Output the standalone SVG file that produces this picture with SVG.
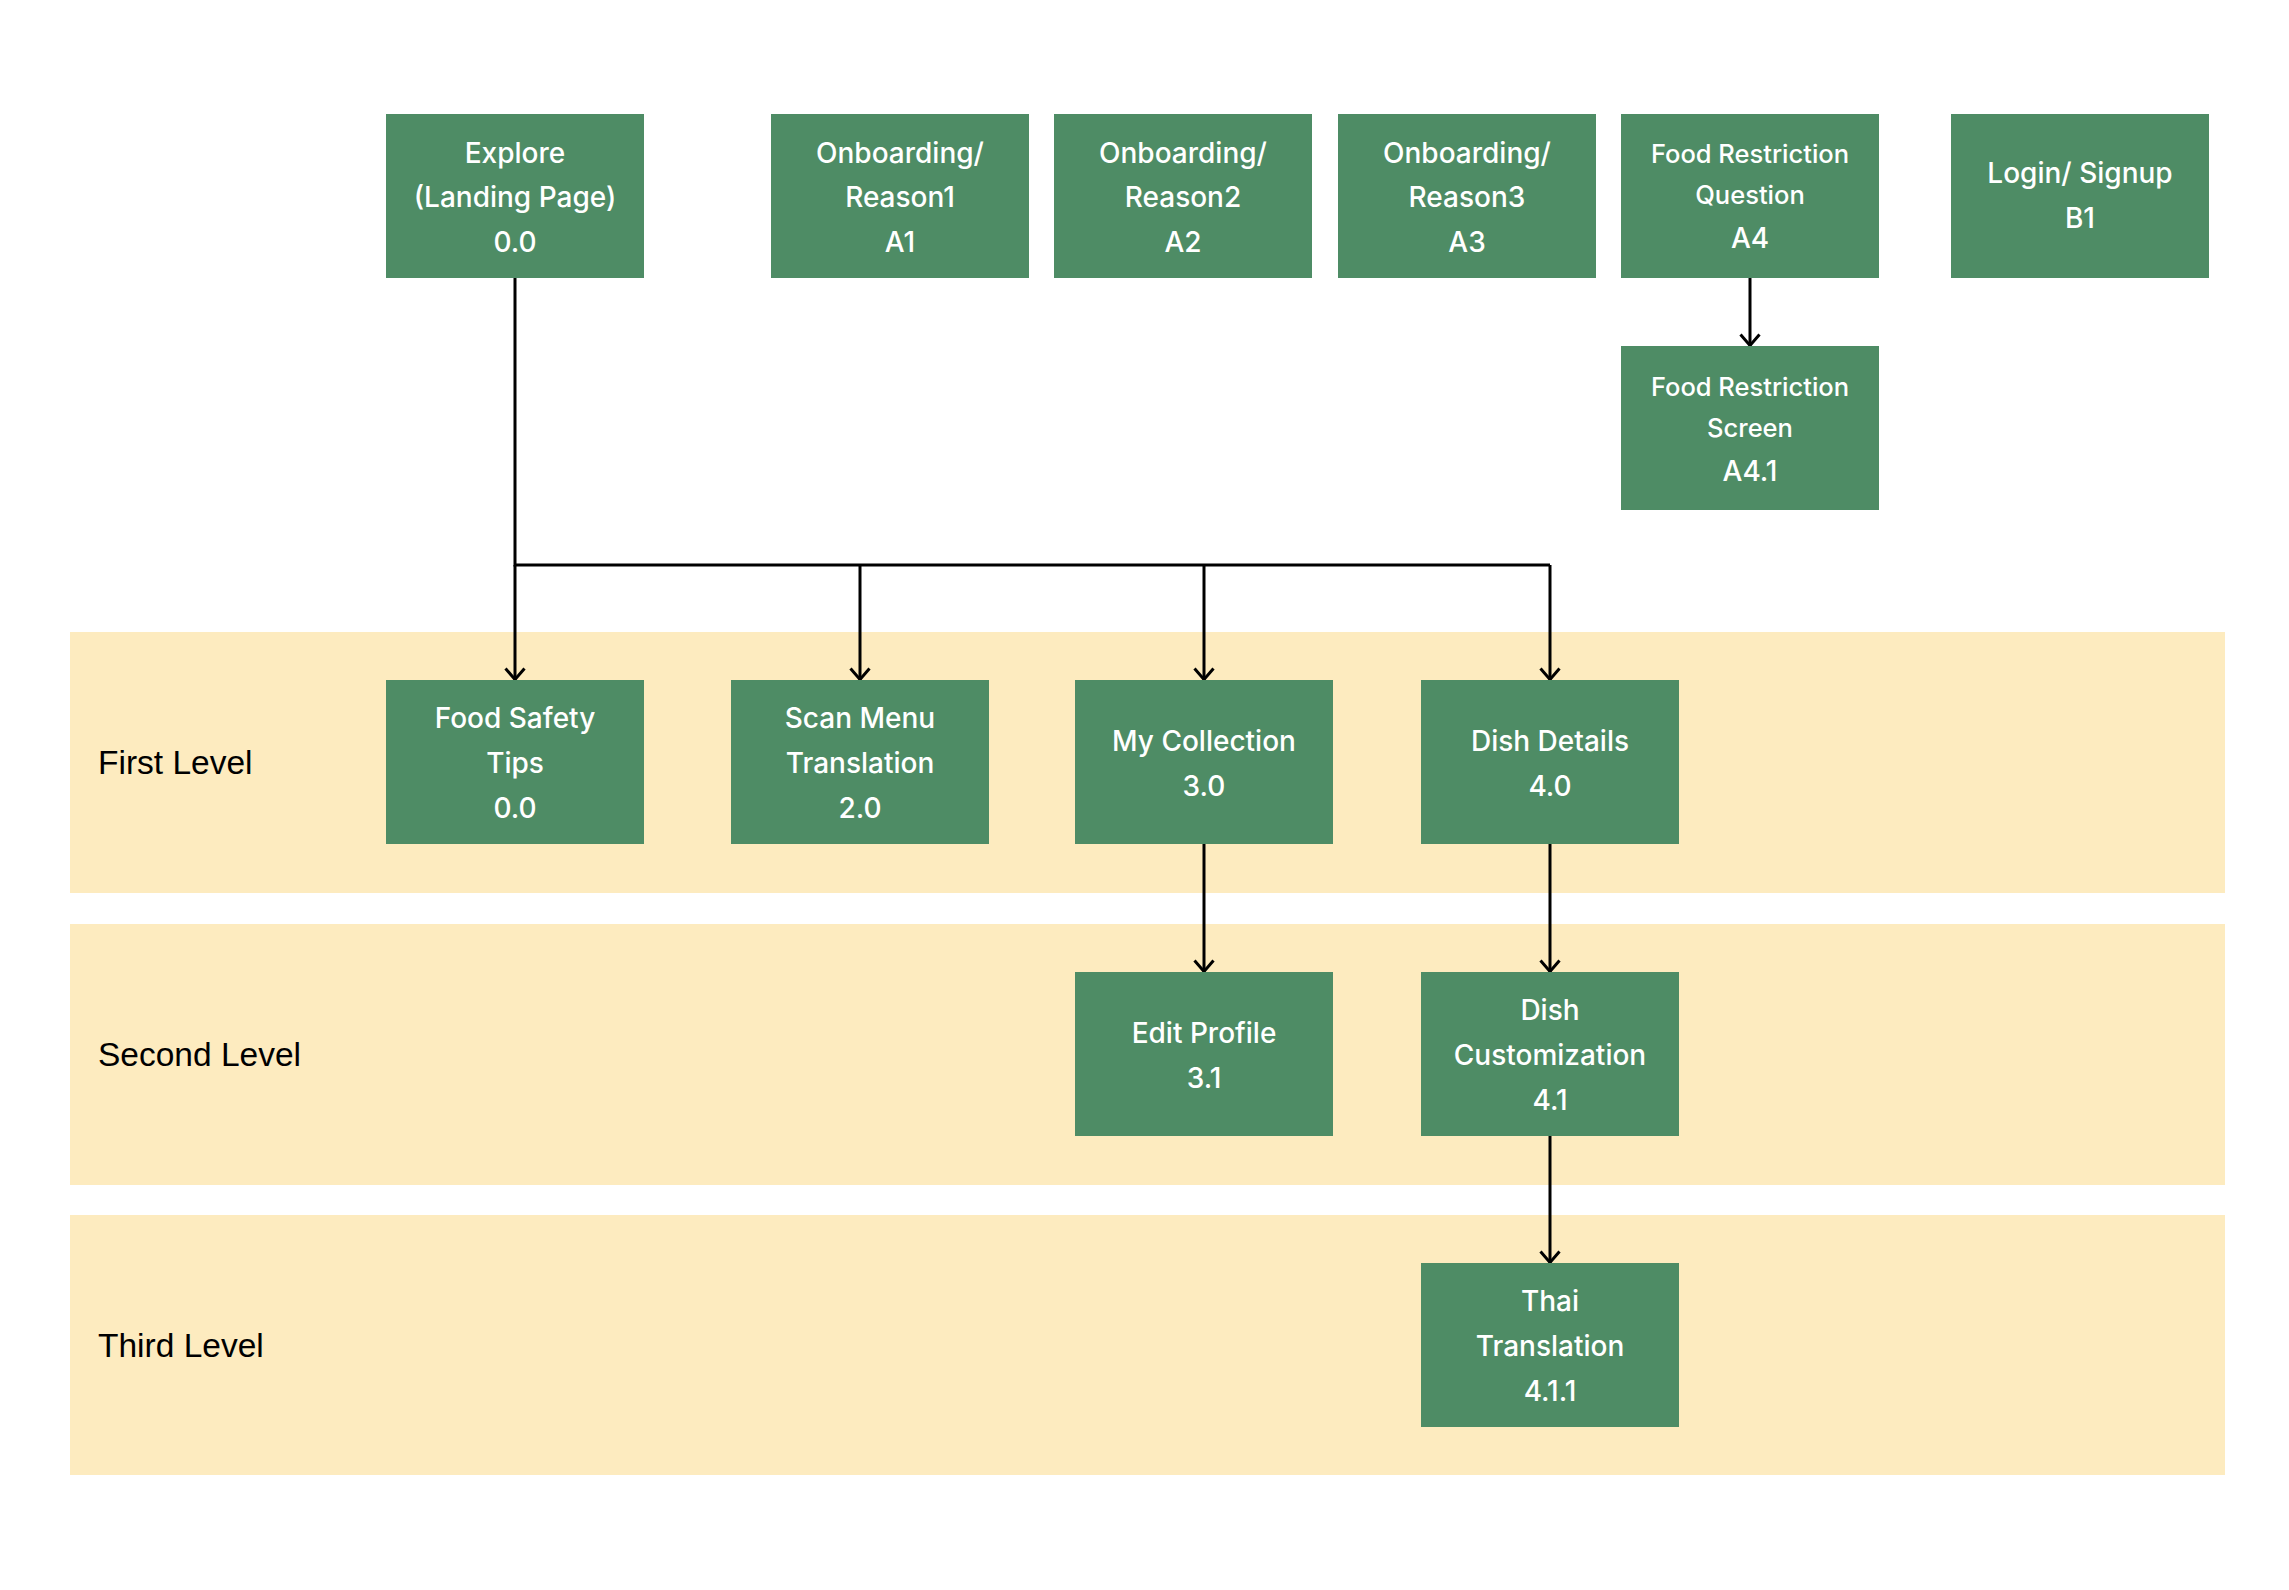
<svg xmlns="http://www.w3.org/2000/svg" width="2289" height="1590" viewBox="0 0 2289 1590">
<style>
.band{fill:#FDEBBF}
.box{fill:#4E8C65}
.t{font-family:Inter,"Liberation Sans",sans-serif;font-size:28px;font-weight:500;fill:#FFFFFF;text-anchor:middle}
.s{font-size:25.5px}
.lvl{font-family:"Liberation Sans",Arial,sans-serif;font-size:33.5px;fill:#000000}
.c{fill:none;stroke:#000000;stroke-width:3}
</style>
<defs>
<marker id="arr" markerUnits="userSpaceOnUse" viewBox="0 0 15 22" markerWidth="15" markerHeight="22" refX="13" refY="11" orient="auto">
<path d="M1.5,1.5 L12.5,11 L1.5,20.5" fill="none" stroke="#000000" stroke-width="3"/>
</marker>
</defs>
<rect width="2289" height="1590" fill="#FFFFFF"/>
<g id="bands">
<rect class="band" x="70" y="632" width="2155" height="261"/>
<rect class="band" x="70" y="924" width="2155" height="261"/>
<rect class="band" x="70" y="1215" width="2155" height="260"/>
<text class="lvl" x="98" y="774">First Level</text>
<text class="lvl" x="98" y="1066">Second Level</text>
<text class="lvl" x="98" y="1357">Third Level</text>
</g>
<g id="connectors">
<path class="c" d="M515,278 V565 H1550"/>
<path class="c" d="M515,565 V680" marker-end="url(#arr)"/>
<path class="c" d="M860,565 V680" marker-end="url(#arr)"/>
<path class="c" d="M1204,565 V680" marker-end="url(#arr)"/>
<path class="c" d="M1550,565 V680" marker-end="url(#arr)"/>
<path class="c" d="M1750,278 V346" marker-end="url(#arr)"/>
<path class="c" d="M1204,844 V972" marker-end="url(#arr)"/>
<path class="c" d="M1550,844 V972" marker-end="url(#arr)"/>
<path class="c" d="M1550,1136 V1263" marker-end="url(#arr)"/>
</g>
<g id="explore">
<rect class="box" x="386" y="114" width="258" height="164"/>
<text class="t" x="515" y="163">Explore</text>
<text class="t" x="515" y="207">(Landing Page)</text>
<text class="t" x="515" y="252">0.0</text>
</g>
<g id="a1">
<rect class="box" x="771" y="114" width="258" height="164"/>
<text class="t" x="900" y="163">Onboarding/</text>
<text class="t" x="900" y="207">Reason1</text>
<text class="t" x="900" y="252">A1</text>
</g>
<g id="a2">
<rect class="box" x="1054" y="114" width="258" height="164"/>
<text class="t" x="1183" y="163">Onboarding/</text>
<text class="t" x="1183" y="207">Reason2</text>
<text class="t" x="1183" y="252">A2</text>
</g>
<g id="a3">
<rect class="box" x="1338" y="114" width="258" height="164"/>
<text class="t" x="1467" y="163">Onboarding/</text>
<text class="t" x="1467" y="207">Reason3</text>
<text class="t" x="1467" y="252">A3</text>
</g>
<g id="a4">
<rect class="box" x="1621" y="114" width="258" height="164"/>
<text class="t s" x="1750" y="163">Food Restriction</text>
<text class="t s" x="1750" y="204">Question</text>
<text class="t" x="1750" y="248">A4</text>
</g>
<g id="b1">
<rect class="box" x="1951" y="114" width="258" height="164"/>
<text class="t" x="2080" y="183">Login/ Signup</text>
<text class="t" x="2080" y="228">B1</text>
</g>
<g id="a41">
<rect class="box" x="1621" y="346" width="258" height="164"/>
<text class="t s" x="1750" y="396">Food Restriction</text>
<text class="t s" x="1750" y="437">Screen</text>
<text class="t" x="1750" y="481">A4.1</text>
</g>
<g id="food-safety">
<rect class="box" x="386" y="680" width="258" height="164"/>
<text class="t" x="515" y="728">Food Safety</text>
<text class="t" x="515" y="773">Tips</text>
<text class="t" x="515" y="818">0.0</text>
</g>
<g id="scan-menu">
<rect class="box" x="731" y="680" width="258" height="164"/>
<text class="t" x="860" y="728">Scan Menu</text>
<text class="t" x="860" y="773">Translation</text>
<text class="t" x="860" y="818">2.0</text>
</g>
<g id="my-collection">
<rect class="box" x="1075" y="680" width="258" height="164"/>
<text class="t" x="1204" y="751">My Collection</text>
<text class="t" x="1204" y="796">3.0</text>
</g>
<g id="dish-details">
<rect class="box" x="1421" y="680" width="258" height="164"/>
<text class="t" x="1550" y="751">Dish Details</text>
<text class="t" x="1550" y="796">4.0</text>
</g>
<g id="edit-profile">
<rect class="box" x="1075" y="972" width="258" height="164"/>
<text class="t" x="1204" y="1043">Edit Profile</text>
<text class="t" x="1204" y="1088">3.1</text>
</g>
<g id="dish-custom">
<rect class="box" x="1421" y="972" width="258" height="164"/>
<text class="t" x="1550" y="1020">Dish</text>
<text class="t" x="1550" y="1065">Customization</text>
<text class="t" x="1550" y="1110">4.1</text>
</g>
<g id="thai">
<rect class="box" x="1421" y="1263" width="258" height="164"/>
<text class="t" x="1550" y="1311">Thai</text>
<text class="t" x="1550" y="1356">Translation</text>
<text class="t" x="1550" y="1401">4.1.1</text>
</g>
</svg>
